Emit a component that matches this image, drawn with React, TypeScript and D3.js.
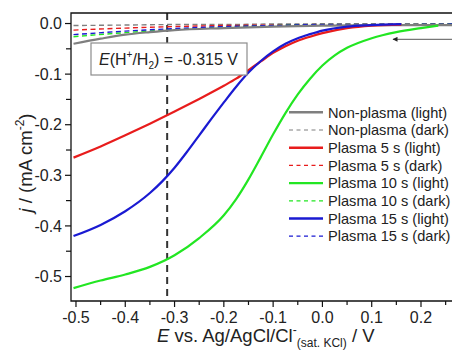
import React, { useEffect, useRef } from 'react';
import * as d3 from 'd3';

// potentials (V) for the light curves
const potRed = [-0.505, -0.45, -0.4, -0.35, -0.3, -0.25, -0.2, -0.175, -0.15, -0.125, -0.1, -0.075, -0.05, -0.025, 0, 0.05, 0.1, 0.16];
const jRed = [-0.265, -0.243, -0.221, -0.198, -0.174, -0.149, -0.123, -0.109, -0.092, -0.075, -0.058, -0.045, -0.034, -0.026, -0.019, -0.009, -0.004, -0.002];

const potBlue = [-0.505, -0.45, -0.4, -0.35, -0.325, -0.3, -0.275, -0.25, -0.225, -0.2, -0.175, -0.15, -0.125, -0.1, -0.075, -0.05, -0.025, 0, 0.05, 0.1, 0.16];
const jBlue = [-0.420, -0.398, -0.371, -0.335, -0.312, -0.285, -0.254, -0.221, -0.188, -0.156, -0.125, -0.097, -0.074, -0.055, -0.040, -0.029, -0.021, -0.014, -0.006, -0.003, -0.001];

const potGreen = [-0.505, -0.45, -0.4, -0.35, -0.3, -0.25, -0.2, -0.175, -0.15, -0.125, -0.1, -0.075, -0.05, -0.025, 0, 0.025, 0.05, 0.1, 0.15, 0.2, 0.235];
const jGreen = [-0.523, -0.508, -0.496, -0.481, -0.458, -0.424, -0.379, -0.347, -0.308, -0.264, -0.219, -0.177, -0.140, -0.109, -0.083, -0.063, -0.048, -0.029, -0.017, -0.009, -0.004];

const potGray = [-0.505, -0.45, -0.4, -0.35, -0.3, -0.2, -0.1, 0, 0.1, 0.2, 0.27];
const jGray = [-0.040, -0.030, -0.022, -0.017, -0.013, -0.009, -0.006, -0.004, -0.003, -0.003, -0.003];

// dark curves
const potDark = [-0.505, -0.4, -0.3, -0.2, -0.1, 0, 0.1, 0.27];
const jGrayDark = [-0.004, -0.003, -0.002, -0.002, -0.001, -0.001, -0.001, -0.001];
const jRedDark = [-0.013, -0.009, -0.006, -0.004, -0.003, -0.002, -0.002, -0.001];
const jGreenDark = [-0.026, -0.018, -0.012, -0.007, -0.004, -0.002, -0.002, -0.001];
const jBlueDark = [-0.022, -0.015, -0.010, -0.006, -0.004, -0.002, -0.002, -0.001];

const xTicks = [-0.5, -0.4, -0.3, -0.2, -0.1, 0.0, 0.1, 0.2];
const yTicks = [0.0, -0.1, -0.2, -0.3, -0.4, -0.5];

const legendLabels = [
    'Non-plasma (light)', 'Non-plasma (dark)',
    'Plasma 5 s (light)', 'Plasma 5 s (dark)',
    'Plasma 10 s (light)', 'Plasma 10 s (dark)',
    'Plasma 15 s (light)', 'Plasma 15 s (dark)'
];

const GRAY = '#7f7f7f', RED = '#e81c1c', GREEN = '#22e622', BLUE = '#1a1ad2';
const FONT = '"Liberation Sans", Arial, sans-serif';

const App = () => {
    const ref = useRef(null);

    useEffect(() => {
        const svg = d3.select(ref.current);
        svg.selectAll('*').remove();

        const left = 71, top = 13, right = 452, bottom = 301;

        const x = d3.scaleLinear().domain([-0.5101, 0.2629]).range([left, right]);
        const y = d3.scaleLinear().domain([-0.5484, 0.0208]).range([bottom, top]);

        svg.append('rect').attr('width', 452).attr('height', 350).attr('fill', '#fff');

        // vertical dashed line at E(H+/H2)
        svg.append('line')
            .attr('x1', x(-0.315)).attr('x2', x(-0.315))
            .attr('y1', top).attr('y2', bottom)
            .attr('stroke', '#333').attr('stroke-width', 2)
            .attr('stroke-dasharray', '7,5');

        const line = d3.line().curve(d3.curveMonotoneX);
        const series = [
            { p: potDark, j: jGrayDark, c: GRAY, dash: true },
            { p: potDark, j: jRedDark, c: RED, dash: true },
            { p: potDark, j: jGreenDark, c: GREEN, dash: true },
            { p: potDark, j: jBlueDark, c: BLUE, dash: true },
            { p: potGray, j: jGray, c: GRAY, dash: false },
            { p: potGreen, j: jGreen, c: GREEN, dash: false },
            { p: potRed, j: jRed, c: RED, dash: false },
            { p: potBlue, j: jBlue, c: BLUE, dash: false }
        ];
        const plot = svg.append('g');
        series.forEach(s => {
            plot.append('path')
                .attr('d', line(s.p.map((v, i) => [x(v), y(s.j[i])])))
                .attr('fill', 'none')
                .attr('stroke', s.c)
                .attr('stroke-width', s.dash ? 1.4 : 2.2)
                .attr('stroke-dasharray', s.dash ? '5,3.5' : null);
        });

        // frame
        svg.append('path')
            .attr('d', `M${right},${top}H${left}V${bottom}H${right}`)
            .attr('fill', 'none').attr('stroke', '#111').attr('stroke-width', 1.3);

        // y axis ticks
        const yAx = svg.append('g').attr('font-family', FONT).attr('font-size', 16).attr('fill', '#222');
        d3.range(0, -0.55, -0.05).forEach((v, i) => {
            yAx.append('line')
                .attr('x1', left - (i % 2 === 0 ? 6 : 5)).attr('x2', left)
                .attr('y1', y(v)).attr('y2', y(v))
                .attr('stroke', '#111').attr('stroke-width', 1.2);
        });
        yTicks.forEach(v => {
            yAx.append('text').attr('x', left - 9).attr('y', y(v)).attr('dy', '0.36em')
                .attr('text-anchor', 'end').text(v.toFixed(1));
        });

        // x axis ticks
        const xAx = svg.append('g').attr('font-family', FONT).attr('font-size', 16).attr('fill', '#222');
        d3.range(-0.5, 0.26, 0.05).forEach((v, i) => {
            xAx.append('line')
                .attr('x1', x(v)).attr('x2', x(v))
                .attr('y1', bottom).attr('y2', bottom + (i % 2 === 0 ? 6 : 4))
                .attr('stroke', '#111').attr('stroke-width', 1.2);
        });
        xTicks.forEach(v => {
            xAx.append('text').attr('x', x(v)).attr('y', 323)
                .attr('text-anchor', 'middle').text(v.toFixed(1));
        });

        // axis titles
        const xt = svg.append('text').attr('x', 157).attr('y', 342)
            .attr('font-family', FONT).attr('font-size', 18.5).attr('fill', '#222');
        xt.append('tspan').attr('font-style', 'italic').text('E');
        xt.append('tspan').text(' vs. Ag/AgCl/Cl');
        xt.append('tspan').attr('font-size', 12).attr('dy', -8).text('-');
        xt.append('tspan').attr('font-size', 12).attr('dy', 13).text('(sat. KCl)');
        xt.append('tspan').attr('dy', -5).text(' / V');

        const yt = svg.append('text')
            .attr('transform', 'translate(32,163) rotate(-90)')
            .attr('text-anchor', 'middle')
            .attr('font-family', FONT).attr('font-size', 18.5).attr('fill', '#222');
        yt.append('tspan').attr('font-style', 'italic').text('j');
        yt.append('tspan').text(' / (mA cm');
        yt.append('tspan').attr('font-size', 12).attr('dy', -8).text('-2');
        yt.append('tspan').attr('dy', 8).text(')');

        // annotation box
        svg.append('rect').attr('x', 91).attr('y', 43).attr('width', 156).attr('height', 32)
            .attr('fill', '#fff').attr('stroke', '#8c8c8c').attr('stroke-width', 1.2);
        const an = svg.append('text').attr('x', 99).attr('y', 65)
            .attr('font-family', FONT).attr('font-size', 16).attr('fill', '#222');
        an.append('tspan').attr('font-style', 'italic').text('E');
        an.append('tspan').text('(H');
        an.append('tspan').attr('font-size', 10).attr('dy', -7).text('+');
        an.append('tspan').attr('dy', 7).text('/H');
        an.append('tspan').attr('font-size', 10).attr('dy', 4).text('2');
        an.append('tspan').attr('dy', -4).text(') = -0.315 V');

        // scan direction arrow
        svg.append('defs').append('marker')
            .attr('id', 'ah').attr('viewBox', '0 0 10 10').attr('refX', 9).attr('refY', 5)
            .attr('markerWidth', 7).attr('markerHeight', 5).attr('orient', 'auto')
            .attr('markerUnits', 'userSpaceOnUse')
            .append('path').attr('d', 'M0,0L10,5L0,10z').attr('fill', '#222');
        svg.append('line').attr('x1', 452).attr('x2', 393).attr('y1', 39.3).attr('y2', 39.3)
            .attr('stroke', '#555').attr('stroke-width', 1)
            .attr('marker-end', 'url(#ah)');

        // legend
        const lg = svg.append('g').attr('font-family', FONT).attr('font-size', 14.6).attr('fill', '#222');
        const legColors = [GRAY, GRAY, RED, RED, GREEN, GREEN, BLUE, BLUE];
        legendLabels.forEach((lab, i) => {
            const cy = 112.3 + i * 17.7;
            const dark = i % 2 === 1;
            lg.append('line').attr('x1', 289).attr('x2', 323).attr('y1', cy).attr('y2', cy)
                .attr('stroke', legColors[i]).attr('stroke-width', dark ? 1.2 : 2.4)
                .attr('stroke-dasharray', dark ? '4,3.5' : null);
            lg.append('text').attr('x', 328).attr('y', cy + 5.2).text(lab);
        });
    }, []);

    return (
        <svg ref={ref} width={452} height={350}
            style={{ position: 'absolute', left: 0, top: 0, display: 'block' }} />
    );
};

export default App;
